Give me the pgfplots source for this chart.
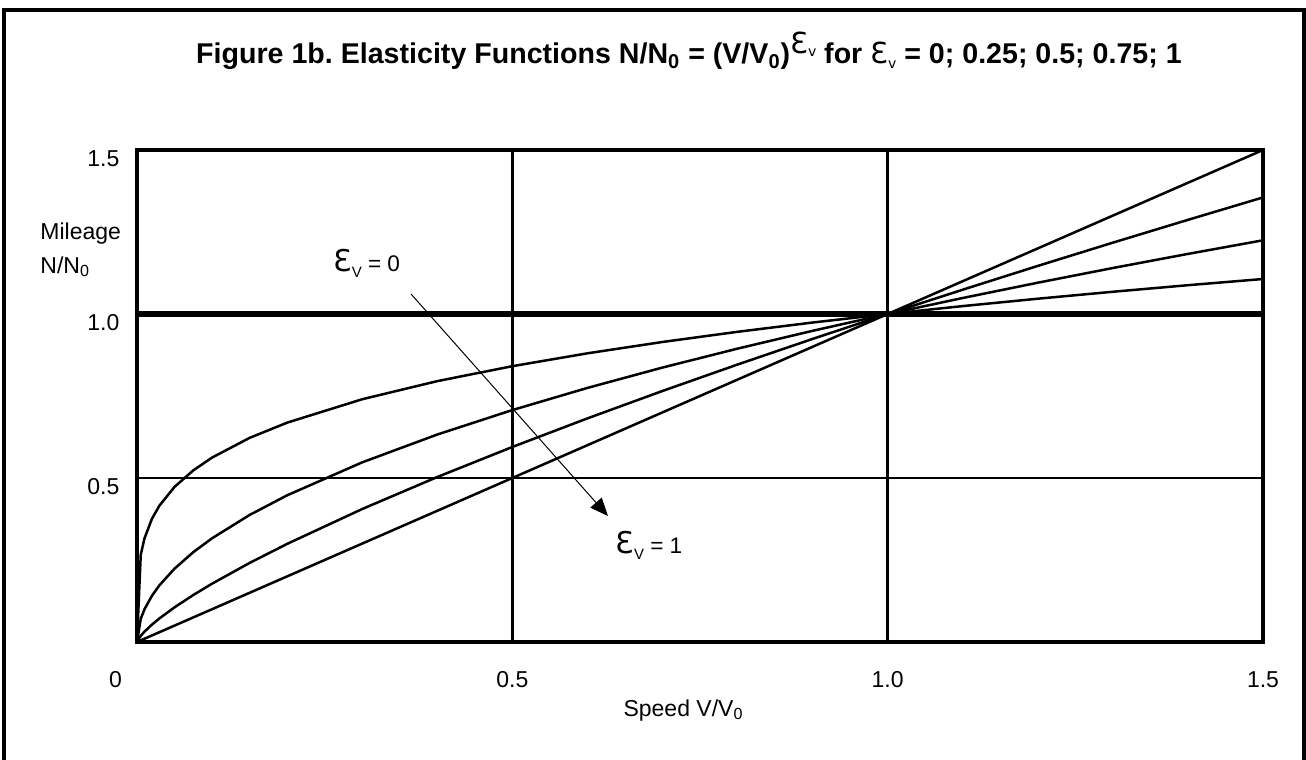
\documentclass[border=0pt]{standalone}
\usepackage{fontspec}
\setmainfont{Liberation Sans}
\newfontfamily\dv{DejaVu Sans}
\usepackage{pgfplots}
\usepackage{pgfplotstable}
\pgfplotsset{compat=1.18}
\usetikzlibrary{arrows.meta}
\frenchspacing

% N/N0 for each elasticity
\pgfplotstableread{
x      e0   e25     e50     e75     e100
0      1    0       0       0       0
0.005  1    0.2659  0.0707  0.0188  0.005
0.01   1    0.3162  0.1000  0.0316  0.01
0.02   1    0.3761  0.1414  0.0532  0.02
0.03   1    0.4162  0.1732  0.0721  0.03
0.05   1    0.4729  0.2236  0.1057  0.05
0.075  1    0.5233  0.2739  0.1433  0.075
0.1    1    0.5623  0.3162  0.1778  0.1
0.15   1    0.6223  0.3873  0.2410  0.15
0.2    1    0.6687  0.4472  0.2991  0.2
0.3    1    0.7401  0.5477  0.4054  0.3
0.4    1    0.7953  0.6325  0.5030  0.4
0.5    1    0.8409  0.7071  0.5946  0.5
0.6    1    0.8801  0.7746  0.6817  0.6
0.7    1    0.9147  0.8367  0.7653  0.7
0.8    1    0.9457  0.8944  0.8459  0.8
0.9    1    0.9740  0.9487  0.9240  0.9
1.0    1    1       1       1       1
1.1    1    1.0241  1.0488  1.0741  1.1
1.2    1    1.0466  1.0954  1.1466  1.2
1.3    1    1.0678  1.1402  1.2175  1.3
1.4    1    1.0878  1.1832  1.2870  1.4
1.5    1    1.1067  1.2247  1.3554  1.5
}\elast

\begin{document}
\begin{tikzpicture}[x=1pt,y=1pt]
% page = 1306x760 px at 0.5pt per px, origin at lower left corner of the axis
\useasboundingbox (-68.5,-59) rectangle (584.5,321);
\draw[line width=2.4pt] (-66.5,-80) rectangle (583.5,316);
\node[anchor=base, font=\bfseries\fontsize{14.3}{16}\selectfont] at (276,289)
  {Figure 1b. Elasticity Functions N/N\textsubscript{0} = (V/V\textsubscript{0})\raisebox{5pt}{\mdseries\dv\fontsize{14.5}{14}\selectfont Ɛ\raisebox{-1.5pt}{\fontsize{7}{7}\selectfont v}} for {\mdseries\dv\fontsize{14.5}{14}\selectfont Ɛ\raisebox{-2.5pt}{\fontsize{7}{7}\selectfont v}} = 0; 0.25; 0.5; 0.75; 1};
\node[anchor=north west, align=left, inner sep=0pt,
      font=\fontsize{11.5}{17}\selectfont] at (-48.5,210) {Mileage\\N/N\textsubscript{0}};
\node[anchor=base, font=\fontsize{11.5}{14}\selectfont] at (273.25,-37) {Speed V/V\textsubscript{0}};
\begin{axis}[
  at={(0,0)}, anchor=south west,
  scale only axis, width=563pt, height=246pt,
  xmin=0, xmax=1.5, ymin=0, ymax=1.5,
  xtick={0,0.5,1,1.5},
  xticklabels={\makebox[0pt][r]{0\hspace{7.5pt}}, 0.5, 1.0, 1.5},
  ytick={0.5,1,1.5},
  yticklabels={0.5, 1.0, 1.5},
  major tick length=0pt,
  grid=major,
  grid style={black, line width=1.4pt},
  axis line style={line width=1.6pt},
  tick label style={font=\fontsize{11.5}{14}\selectfont},
  xticklabel style={yshift=-11.3pt},
  yticklabel style={xshift=-5.3pt, yshift=-4.3pt},
]
\addplot[black, line width=3pt] table[x=x, y=e0] {\elast};
\addplot[black, line width=1.25pt] table[x=x, y=e25] {\elast};
\addplot[black, line width=1.25pt] table[x=x, y=e50] {\elast};
\addplot[black, line width=1.25pt] table[x=x, y=e75] {\elast};
\addplot[black, line width=1.25pt] table[x=x, y=e100] {\elast};
\draw[line width=2pt] (rel axis cs:0,1) -- (rel axis cs:1,1);
\draw[line width=0.5pt, -{Triangle[length=9pt, width=7.5pt]}]
  (axis cs:0.365,1.061) -- (axis cs:0.6274,0.384);
\node[anchor=west, inner sep=0pt, font=\fontsize{11.3}{13}\selectfont]
  at (axis cs:0.261,1.155) {{\dv\fontsize{15}{14}\selectfont Ɛ}\raisebox{-3pt}{\fontsize{7.5}{8}\selectfont V} = 0};
\node[anchor=west, inner sep=0pt, font=\fontsize{11.3}{13}\selectfont]
  at (axis cs:0.637,0.296) {{\dv\fontsize{15}{14}\selectfont Ɛ}\raisebox{-3pt}{\fontsize{7.5}{8}\selectfont V} = 1};
\end{axis}
\end{tikzpicture}
\end{document}
